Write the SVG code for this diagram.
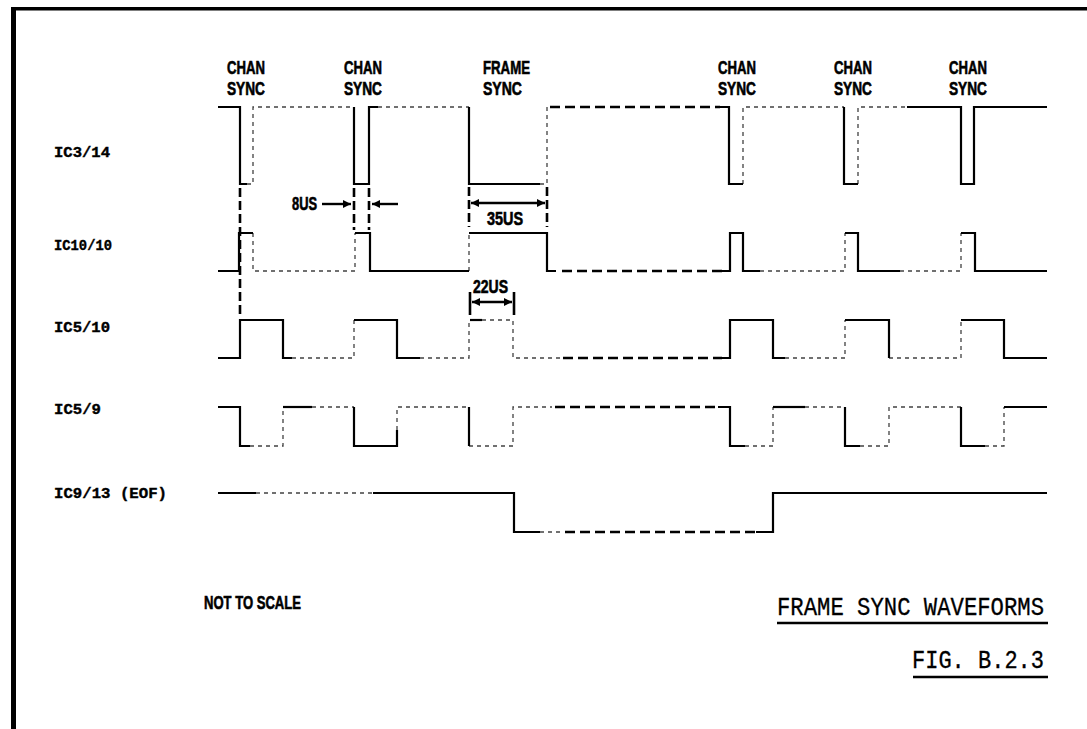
<svg xmlns="http://www.w3.org/2000/svg" width="1087" height="729" viewBox="0 0 1087 729">
<style>
.w{fill:none;stroke:#000;stroke-width:2.2;stroke-linejoin:miter}
.f{fill:none;stroke:#000;stroke-width:1.3;stroke-dasharray:4 4;opacity:.75}
.d{fill:none;stroke:#000;stroke-width:2.6;stroke-dasharray:10 5}
.tk{fill:none;stroke:#000;stroke-width:2.6;stroke-dasharray:9 4}
.ts{fill:none;stroke:#000;stroke-width:2.6}
.ar{fill:none;stroke:#000;stroke-width:2.4}
.lab{font-family:"Liberation Sans",Arial,sans-serif;font-weight:bold;font-size:18px;fill:#000;stroke:#000;stroke-width:0.6}
.sig{font-family:"Liberation Mono","DejaVu Sans Mono",monospace;font-weight:bold;font-size:15px;fill:#000;stroke:#000;stroke-width:0.4}
.ttl{font-family:"Liberation Mono","DejaVu Sans Mono",monospace;font-size:25px;fill:#000;stroke:#000;stroke-width:0.3}
</style>
<defs>
<marker id="ah" viewBox="0 0 10 10" refX="10" refY="5" markerWidth="9" markerHeight="8" markerUnits="userSpaceOnUse" orient="auto-start-reverse">
<path d="M0,0 L10,5 L0,10 z" fill="#000"/>
</marker>
</defs>
<rect width="1087" height="729" fill="#fff"/>
<g id="border">
<rect x="11" y="7" width="5" height="722" fill="#000"/>
<rect x="11" y="7" width="1076" height="3.5" fill="#000"/>
</g>

<g id="sync-labels">
<g id="lbl-chan1"><text class="lab" x="227" y="74" textLength="38" lengthAdjust="spacingAndGlyphs">CHAN</text><text class="lab" x="227" y="95" textLength="38" lengthAdjust="spacingAndGlyphs">SYNC</text></g>
<g id="lbl-chan2"><text class="lab" x="344" y="74" textLength="38" lengthAdjust="spacingAndGlyphs">CHAN</text><text class="lab" x="344" y="95" textLength="38" lengthAdjust="spacingAndGlyphs">SYNC</text></g>
<g id="lbl-frame"><text class="lab" x="483" y="74" textLength="47" lengthAdjust="spacingAndGlyphs">FRAME</text><text class="lab" x="483" y="95" textLength="39" lengthAdjust="spacingAndGlyphs">SYNC</text></g>
<g id="lbl-chan4"><text class="lab" x="718" y="74" textLength="38" lengthAdjust="spacingAndGlyphs">CHAN</text><text class="lab" x="718" y="95" textLength="38" lengthAdjust="spacingAndGlyphs">SYNC</text></g>
<g id="lbl-chan5"><text class="lab" x="834" y="74" textLength="38" lengthAdjust="spacingAndGlyphs">CHAN</text><text class="lab" x="834" y="95" textLength="38" lengthAdjust="spacingAndGlyphs">SYNC</text></g>
<g id="lbl-chan6"><text class="lab" x="949" y="74" textLength="38" lengthAdjust="spacingAndGlyphs">CHAN</text><text class="lab" x="949" y="95" textLength="38" lengthAdjust="spacingAndGlyphs">SYNC</text></g>
</g>

<g id="sig-ic3-14">
<text class="sig" x="54" y="157" textLength="56" lengthAdjust="spacingAndGlyphs">IC3/14</text>
<path class="w" d="M218,107 H240 V184 H247"/>
<path class="f" d="M247,184 H253 V107 H354"/>
<path class="w" d="M354,107 V184 H369 V107 H378"/>
<path class="f" d="M378,107 H469"/>
<path class="w" d="M469,107 V184 H540"/>
<path class="f" d="M540,184 H547 V107"/>
<path class="d" d="M550,107 H720"/>
<path class="w" d="M718,107 H729 V184 H743"/>
<path class="f" d="M743,184 V107 H844"/>
<path class="w" d="M844,107 V184 H858"/>
<path class="f" d="M858,184 V107 H907"/>
<path class="w" d="M907,107 H961 V184 H974 V107 H1047"/>
</g>

<g id="sig-ic10-10">
<text class="sig" x="54" y="250" textLength="58" lengthAdjust="spacingAndGlyphs">IC10/10</text>
<path class="w" d="M218,271 H239 V233 H253"/>
<path class="f" d="M253,233 V271 H355 V233"/>
<path class="w" d="M355,233 H370 V271 H469"/>
<path class="f" d="M469,271 V233"/>
<path class="w" d="M469,233 H547 V271 H556"/>
<path class="d" d="M562,271 H722"/>
<path class="w" d="M720,271 H730 V233 H743 V271 H760"/>
<path class="f" d="M760,271 H845 V233"/>
<path class="w" d="M845,233 H858 V271 H900"/>
<path class="f" d="M900,271 H961 V233"/>
<path class="w" d="M961,233 H975 V271 H1047"/>
</g>

<g id="sig-ic5-10">
<text class="sig" x="54" y="332" textLength="56" lengthAdjust="spacingAndGlyphs">IC5/10</text>
<path class="w" d="M218,358 H240 V320 H283 V358 H292"/>
<path class="f" d="M292,358 H354 V320"/>
<path class="w" d="M354,320 H397 V358 H420"/>
<path class="f" d="M420,358 H469 V320"/>
<path class="w" d="M470,320 H482"/>
<path class="f" d="M482,320 H513 V358 H560"/>
<path class="d" d="M563,358 H722"/>
<path class="w" d="M720,358 H730 V320 H773 V358 H785"/>
<path class="f" d="M785,358 H845 V320"/>
<path class="w" d="M845,320 H889 V358"/>
<path class="f" d="M889,358 H961 V320"/>
<path class="w" d="M961,320 H1004 V358 H1047"/>
</g>

<g id="sig-ic5-9">
<text class="sig" x="54" y="414" textLength="47" lengthAdjust="spacingAndGlyphs">IC5/9</text>
<path class="w" d="M218,407 H240 V446 H250"/>
<path class="f" d="M250,446 H283 V407"/>
<path class="w" d="M283,407 H312"/>
<path class="f" d="M312,407 H354"/>
<path class="w" d="M354,407 V446 H397 V430"/>
<path class="f" d="M397,430 V407 H469"/>
<path class="w" d="M469,407 V446"/>
<path class="f" d="M469,446 H513 V407 H552"/>
<path class="d" d="M555,407 H720"/>
<path class="w" d="M718,407 H730 V446 H745"/>
<path class="f" d="M745,446 H773 V407"/>
<path class="w" d="M773,407 H805"/>
<path class="f" d="M805,407 H845"/>
<path class="w" d="M845,407 V446 H860"/>
<path class="f" d="M860,446 H889 V407 H961"/>
<path class="w" d="M961,407 V446 H985"/>
<path class="f" d="M985,446 H1004 V407"/>
<path class="w" d="M1004,407 H1047"/>
</g>

<g id="sig-ic9-13">
<text class="sig" x="54" y="498" textLength="113" lengthAdjust="spacingAndGlyphs">IC9/13 (EOF)</text>
<path class="w" d="M218,493 H256"/>
<path class="f" d="M256,493 H373"/>
<path class="w" d="M373,493 H514 V532 H540"/>
<path class="f" d="M540,532 H562"/>
<path class="d" d="M565,532 H760"/>
<path class="w" d="M756,532 H773 V493 H1047"/>
</g>

<g id="connectors">
<path class="tk" d="M240,188 V318"/>
<path class="tk" d="M354,188 V230"/>
<path class="tk" d="M369,188 V230"/>
<path class="ar" d="M322,204 H351" marker-end="url(#ah)"/>
<path class="ar" d="M398,204 H372" marker-end="url(#ah)"/>
<path class="tk" d="M469,187 V227"/>
<path class="tk" d="M547,187 V227"/>
<path class="ar" d="M471,203 H545" marker-start="url(#ah)" marker-end="url(#ah)"/>
<path class="ts" d="M470,292 V315"/>
<path class="ts" d="M514,292 V315"/>
<path class="ar" d="M472,302 H512" marker-start="url(#ah)" marker-end="url(#ah)"/>
</g>

<g id="dim-labels">
<text class="lab" x="292" y="210" font-size="16" textLength="25" lengthAdjust="spacingAndGlyphs">8US</text>
<text class="lab" x="487" y="225" font-size="16" textLength="36" lengthAdjust="spacingAndGlyphs">35US</text>
<text class="lab" x="473" y="293" font-size="16" textLength="35" lengthAdjust="spacingAndGlyphs">22US</text>
</g>

<g id="notes">
<text class="lab" x="204" y="609" font-size="14" textLength="97" lengthAdjust="spacingAndGlyphs">NOT TO SCALE</text>
<text class="ttl" x="777" y="615" textLength="267" lengthAdjust="spacingAndGlyphs">FRAME SYNC WAVEFORMS</text>
<line x1="777" y1="623" x2="1048" y2="623" stroke="#000" stroke-width="2.5"/>
<text class="ttl" x="912" y="668" textLength="132" lengthAdjust="spacingAndGlyphs">FIG. B.2.3</text>
<line x1="913" y1="677" x2="1048" y2="677" stroke="#000" stroke-width="2.5"/>
</g>
</svg>
